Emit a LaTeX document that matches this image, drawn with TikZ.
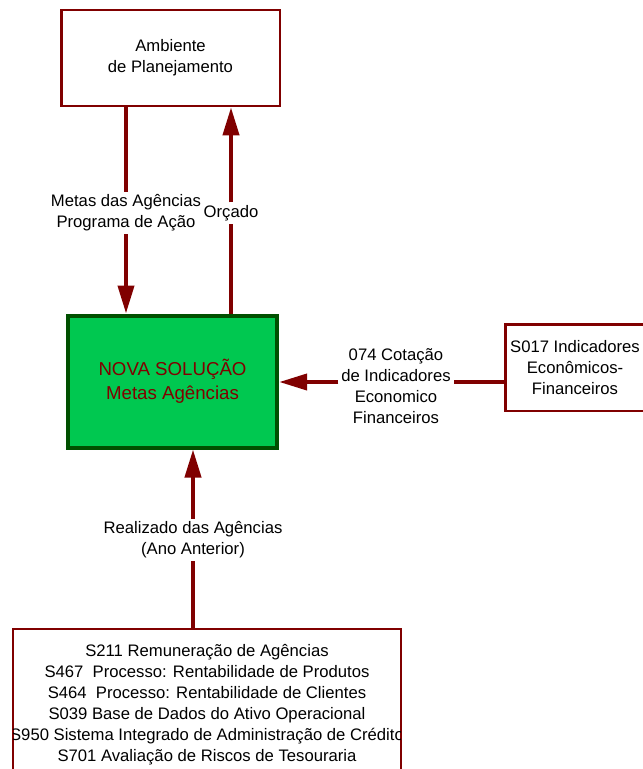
\documentclass[tikz,border=0pt]{standalone}
\usepackage{fontspec}
\setmainfont{Liberation Sans}
\usetikzlibrary{arrows.meta}

\definecolor{vinho}{RGB}{128,0,0}
\definecolor{verde}{RGB}{0,200,80}
\definecolor{verdeesc}{RGB}{0,80,0}

\begin{document}
\begin{tikzpicture}[x=0.75pt, y=-0.75pt, >={Triangle[length=21pt, width=12pt]}]
    \useasboundingbox (0,0) rectangle (643,769);

    % Define styles
    \tikzstyle{caixa}=[rectangle, draw=vinho, line width=2pt, fill=white, align=center, text=black, font=\fontsize{12.5}{15.75}\selectfont]
    \tikzstyle{solucao}=[rectangle, draw=verdeesc, line width=3pt, fill=verde, align=center, text=vinho, font=\fontsize{14}{18}\selectfont]
    \tikzstyle{rotulo}=[align=center, inner sep=2pt, text=black, font=\fontsize{12.5}{15.75}\selectfont]
    \tikzstyle{fluxo}=[draw=vinho, line width=3pt]

    \node[caixa, minimum width=164pt, minimum height=72pt] (amb) at (170.5,58) {Ambiente\\de Planejamento};
    \node[solucao, minimum width=157pt, minimum height=99pt] (nova) at (172.5,381.5) {NOVA SOLUÇÃO\\Metas Agências};
    \node[caixa, minimum width=96pt, minimum height=65pt] (ind) at (575,367.5) {S017 Indicadores\\Econômicos-\\Financeiros};
    \node[caixa, minimum width=291pt, minimum height=114pt] (sis) at (207,705) {};
    \begin{scope}
        \clip (13.5,630.5) rectangle (400.5,790);
        \node[rotulo, inner sep=0pt] (sistxt) at (sis.center) {S211 Remuneração de Agências\\S467\ \ Processo: Rentabilidade de Produtos\\S464\ \ Processo: Rentabilidade de Clientes\\S039 Base de Dados do Ativo Operacional\\S950 Sistema Integrado de Administração de Crédito\\S701 Avaliação de Riscos de Tesouraria};
    \end{scope}

    \node[rotulo] (metas) at (126,213) {Metas das Agências\\Programa de Ação};
    \node[rotulo] (orc) at (231,213) {Orçado};
    \node[rotulo] (cot) at (396,386.5) {074 Cotação\\de Indicadores\\Economico\\Financeiros};
    \node[rotulo] (real) at (193,540) {Realizado das Agências\\(Ano Anterior)};
    \coordinate (eixo) at (0,382);

    \draw[fluxo] (amb.south -| metas) -- (metas.north);
    \draw[fluxo, ->] (metas.south) -- (nova.north -| metas);
    \draw[fluxo] (nova.north -| orc) -- (orc.south);
    \draw[fluxo, ->] (orc.north) -- (amb.south -| orc);
    \draw[fluxo] (ind.west |- eixo) -- (cot.east |- eixo);
    \draw[fluxo, ->] (cot.west |- eixo) -- (nova.east |- eixo);
    \draw[fluxo] (sis.north -| real) -- (real.south);
    \draw[fluxo, ->] (real.north) -- (nova.south -| real);
\end{tikzpicture}
\end{document}
